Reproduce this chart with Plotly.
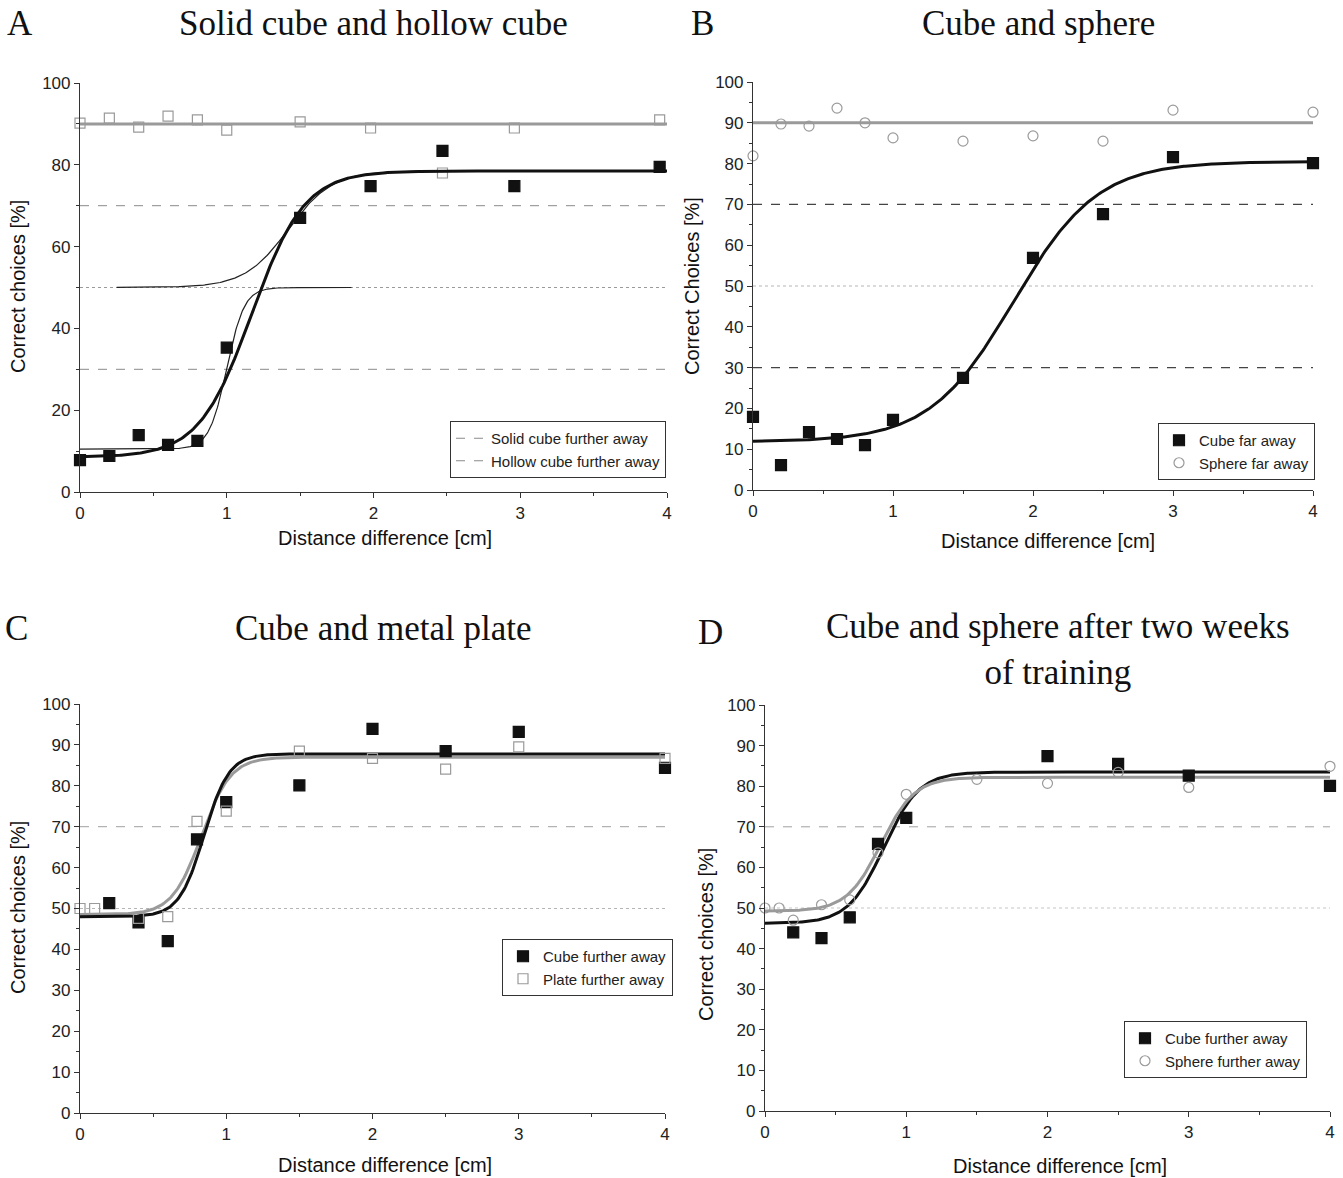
import numpy as np
import plotly.graph_objects as go

W, H = 1343, 1178

# ---------------- data ----------------
# Panel A: Solid cube and hollow cube
a_x = [0, 0.2, 0.4, 0.6, 0.8, 1.0, 1.5, 1.98, 2.47, 2.96, 3.95]
a_solid = [7.8, 8.8, 13.9, 11.5, 12.5, 35.3, 67.0, 74.8, 83.4, 74.8, 79.5]
a_hollow = [90.2, 91.4, 89.2, 91.9, 91.0, 88.5, 90.5, 89.0, 78.0, 89.0, 91.0]
a_hollow_level = 90
# Boltzmann fit parameters: [bottom, top, x0, dx, x_start, x_end]
a_fit_thick = [8.5, 78.5, 1.17, 0.18, 0.0, 4.0]
a_fit_thin_low = [10.5, 50.0, 1.0, 0.06, 0.0, 1.85]
a_fit_thin_high = [50.0, 78.5, 1.42, 0.15, 0.25, 4.0]

# Panel B: Cube and sphere
b_x = [0, 0.2, 0.4, 0.6, 0.8, 1.0, 1.5, 2.0, 2.5, 3.0, 4.0]
b_cube = [17.9, 6.1, 14.2, 12.5, 11.0, 17.2, 27.5, 56.9, 67.6, 81.6, 80.1]
b_sphere = [81.9, 89.7, 89.2, 93.6, 90.0, 86.3, 85.5, 86.8, 85.5, 93.1, 92.6]
b_sphere_level = 90
b_fit_cube = [11.8, 80.5, 1.86, 0.30, 0.0, 4.0]

# Panel C: Cube and metal plate
c_x_cube = [0.2, 0.4, 0.6, 0.8, 1.0, 1.5, 2.0, 2.5, 3.0, 4.0]
c_cube = [51.3, 46.6, 42.0, 66.9, 76.0, 80.1, 93.9, 88.5, 93.2, 84.4]
c_x_plate = [0, 0.1, 0.4, 0.6, 0.8, 1.0, 1.5, 2.0, 2.5, 3.0, 4.0]
c_plate = [50.0, 50.0, 47.6, 48.0, 71.3, 73.8, 88.5, 86.7, 84.1, 89.5, 86.7]
c_fit_cube = [48.0, 87.8, 0.848, 0.085, 0.0, 4.0]
c_fit_plate = [48.5, 87.0, 0.83, 0.10, 0.0, 4.0]

# Panel D: Cube and sphere after two weeks of training
d_x_cube = [0.2, 0.4, 0.6, 0.8, 1.0, 2.0, 2.5, 3.0, 4.0]
d_cube = [44.0, 42.6, 47.7, 65.8, 72.2, 87.4, 85.5, 82.6, 80.1]
d_x_sphere = [0, 0.1, 0.2, 0.4, 0.6, 0.8, 1.0, 1.5, 2.0, 2.5, 3.0, 4.0]
d_sphere = [50.0, 50.0, 47.0, 50.8, 52.0, 63.6, 78.0, 81.7, 80.7, 83.4, 79.7, 84.9]
d_fit_cube = [46.2, 83.5, 0.84, 0.125, 0.0, 4.0]
d_fit_sphere = [49.2, 82.2, 0.82, 0.12, 0.0, 4.0]

x_ticks = [0, 1, 2, 3, 4]

# ---------------- helpers ----------------
def boltzmann(p):
    a1, a2, x0, dx, xs, xe = p
    xx = np.linspace(xs, xe, 400)
    return xx, a2 + (a1 - a2) / (1 + np.exp((xx - x0) / dx))

def px(x):
    return x / W

def py(y):
    return 1 - y / H

BLACK = "#111111"
GRAY = "#9a9a9a"
SANS = "Liberation Sans, Arial, sans-serif"
SERIF = "Liberation Serif, Times New Roman, serif"
TICKFONT = dict(family=SANS, size=17, color="#222")

fig = go.Figure()

def hline(level, xa, ya, color, dash, width, name=None, legend=None, x0=0, x1=4):
    fig.add_trace(go.Scatter(
        x=[x0, x1], y=[level, level], mode="lines", xaxis=xa, yaxis=ya,
        line=dict(color=color, dash=dash, width=width),
        name=name or "", showlegend=name is not None,
        legend=legend, hoverinfo="skip", cliponaxis=False))

def curve(p, xa, ya, color, width):
    xx, yy = boltzmann(p)
    fig.add_trace(go.Scatter(x=xx, y=yy, mode="lines", xaxis=xa, yaxis=ya,
                             line=dict(color=color, width=width),
                             showlegend=False, hoverinfo="skip", cliponaxis=False))

def pts(x, y, xa, ya, symbol, color, fill, name=None, legend=None):
    fig.add_trace(go.Scatter(
        x=x, y=y, mode="markers", xaxis=xa, yaxis=ya,
        marker=dict(symbol=symbol, size=11 if symbol == "square" else 10,
                    color=fill, line=dict(color=color, width=1.2)),
        name=name or "", showlegend=name is not None, legend=legend,
        cliponaxis=False))

# ---- Panel A ----
hline(50, "x", "y", "#9a9a9a", "dot", 1)
hline(70, "x", "y", "#8a8a8a", "dash", 1, "Solid cube further away", "legend")
hline(30, "x", "y", "#8a8a8a", "dash", 1, "Hollow cube further away", "legend")
hline(a_hollow_level, "x", "y", GRAY, "solid", 3)
pts(a_x, a_hollow, "x", "y", "square-open", GRAY, GRAY)
curve(a_fit_thin_low, "x", "y", "#222", 1.2)
curve(a_fit_thin_high, "x", "y", "#222", 1.2)
curve(a_fit_thick, "x", "y", BLACK, 3)
pts(a_x, a_solid, "x", "y", "square", BLACK, BLACK)

# ---- Panel B ----
hline(50, "x2", "y2", "#b5b5b5", "dot", 1)
hline(70, "x2", "y2", "#444", "dash", 1.2)
hline(30, "x2", "y2", "#444", "dash", 1.2)
hline(b_sphere_level, "x2", "y2", GRAY, "solid", 3)
curve(b_fit_cube, "x2", "y2", BLACK, 3)
pts(b_x, b_cube, "x2", "y2", "square", BLACK, BLACK, "Cube far away", "legend2")
pts(b_x, b_sphere, "x2", "y2", "circle-open", GRAY, GRAY, "Sphere far away", "legend2")

# ---- Panel C ----
hline(50, "x3", "y3", "#b5b5b5", "dot", 1)
hline(70, "x3", "y3", "#a0a0a0", "dash", 1)
curve(c_fit_plate, "x3", "y3", GRAY, 3)
curve(c_fit_cube, "x3", "y3", BLACK, 3)
pts(c_x_cube, c_cube, "x3", "y3", "square", BLACK, BLACK, "Cube further away", "legend3")
pts(c_x_plate, c_plate, "x3", "y3", "square-open", GRAY, GRAY, "Plate further away", "legend3")

# ---- Panel D ----
hline(50, "x4", "y4", "#c5c5c5", "dot", 1)
hline(70, "x4", "y4", "#a0a0a0", "dash", 1)
curve(d_fit_cube, "x4", "y4", BLACK, 3)
curve(d_fit_sphere, "x4", "y4", GRAY, 3)
pts(d_x_cube, d_cube, "x4", "y4", "square", BLACK, BLACK, "Cube further away", "legend4")
pts(d_x_sphere, d_sphere, "x4", "y4", "circle-open", GRAY, GRAY, "Sphere further away", "legend4")

# ---------------- axes ----------------
def xaxis(dom):
    return dict(domain=dom, range=[0, 4], tickvals=x_ticks, ticks="outside", ticklen=5,
                tickwidth=1, tickcolor="#333", showline=True, linecolor="#333",
                linewidth=1.2, showgrid=False, zeroline=False, tickfont=TICKFONT,
                minor=dict(dtick=0.5, ticks="outside", ticklen=3, tickcolor="#333"),
                automargin=False, fixedrange=True)

def yaxis(dom, anchor, dtick, minor):
    return dict(domain=dom, range=[0, 100], dtick=dtick, ticks="outside", ticklen=5,
                tickwidth=1, tickcolor="#333", showline=True, linecolor="#333",
                linewidth=1.2, showgrid=False, zeroline=False, tickfont=TICKFONT,
                minor=dict(dtick=minor, ticks="outside", ticklen=3, tickcolor="#333"),
                anchor=anchor, automargin=False, fixedrange=True)

def legend(x, y):
    return dict(x=x, y=y, xanchor="left", yanchor="top", bgcolor="white",
                bordercolor="#333", borderwidth=1,
                font=dict(family=SANS, size=15, color="#222"),
                tracegroupgap=0, itemwidth=30)

fig.update_layout(
    width=W, height=H, margin=dict(l=0, r=0, t=0, b=0),
    plot_bgcolor="white", paper_bgcolor="white",
    xaxis=dict(xaxis([px(80), px(667)]), anchor="y"),
    yaxis=yaxis([py(492), py(83)], "x", 20, 10),
    xaxis2=dict(xaxis([px(753), px(1313)]), anchor="y2"),
    yaxis2=yaxis([py(490), py(82)], "x2", 10, 5),
    xaxis3=dict(xaxis([px(80), px(665)]), anchor="y3"),
    yaxis3=yaxis([py(1113), py(704)], "x3", 10, 5),
    xaxis4=dict(xaxis([px(765), px(1330)]), anchor="y4"),
    yaxis4=yaxis([py(1111), py(705)], "x4", 10, 5),
    legend=legend(px(450), py(421)),
    legend2=legend(px(1158), py(423)),
    legend3=legend(px(502), py(939)),
    legend4=legend(px(1124), py(1021)),
)

# ---------------- text ----------------
def text(t, x, y, size, family, angle=0, xanchor="center"):
    fig.add_annotation(text=t, x=px(x), y=py(y), xref="paper", yref="paper",
                       showarrow=False, xanchor=xanchor, yanchor="middle", textangle=angle,
                       font=dict(family=family, size=size, color="#111"))

TS = 35
text("A", 20, 23, TS, SERIF)
text("Solid cube and hollow cube", 373, 23, TS, SERIF)
text("B", 702, 23, TS, SERIF)
text("Cube and sphere", 1038, 23, TS, SERIF)
text("C", 16, 628, TS, SERIF)
text("Cube and metal plate", 383, 628, TS, SERIF)
text("D", 710, 632, TS, SERIF)
text("Cube and sphere after two weeks<br>of training", 1058, 649, TS, SERIF)

AS = 20
text("Distance difference [cm]", 385, 538, AS, SANS)
text("Distance difference [cm]", 1048, 541, AS, SANS)
text("Distance difference [cm]", 385, 1165, AS, SANS)
text("Distance difference [cm]", 1060, 1166, AS, SANS)
text("Correct choices [%]", 18, 287, AS, SANS, -90)
text("Correct Choices [%]", 692, 286, AS, SANS, -90)
text("Correct choices [%]", 18, 908, AS, SANS, -90)
text("Correct choices [%]", 706, 935, AS, SANS, -90)

# remove the default 8px page margin so the figure fills the window exactly
fig.write_html("out.html", config={"displayModeBar": False},
               post_script="document.body.style.margin='0px';document.body.style.overflow='hidden';")
